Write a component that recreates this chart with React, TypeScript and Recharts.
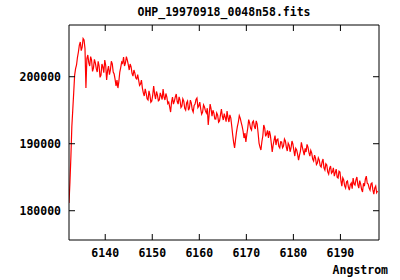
import { LineChart, Line, XAxis, YAxis } from "recharts"

// spectrum sampled on a linear wavelength grid (CRVAL1 / CDELT1 style)
const LAMBDA_START = 6132.3
const LAMBDA_STEP = 0.2

const flux = [
  181140, 184200, 188010, 192500, 195030, 197600, 200250, 201200, 201750, 202900,
  203690, 204700, 205180, 203900, 204430, 205700, 205480, 204200, 198310, 202700,
  203240, 202100, 201600, 203000, 202490, 200800, 201300, 202600, 202050, 201200,
  200700, 202300, 201600, 199900, 200250, 201900, 201450, 200600, 202490, 201700,
  199510, 200900, 201600, 200300, 201000, 202300, 201900, 200700, 200400, 199600,
  198610, 199500, 198310, 199300, 200700, 201400, 202190, 202000, 202940, 201600,
  202050, 203000, 202490, 201800, 201000, 201900, 201450, 200500, 200100, 201000,
  200550, 199800, 199660, 200300, 199510, 198700, 198910, 199500, 198310, 197600,
  197120, 198200, 197570, 196700, 196520, 197900, 197270, 196200, 196370, 197300,
  198610, 197400, 196670, 197800, 197270, 196400, 196520, 197600, 197120, 196600,
  198160, 197000, 196520, 197500, 196970, 196000, 196220, 195500, 194730, 196200,
  196970, 195900, 196370, 197000, 197420, 196300, 195920, 197000, 196520, 195400,
  195630, 196700, 196370, 195300, 195030, 196100, 196370, 195000, 195330, 196500,
  196070, 195100, 194730, 195700, 195920, 196600, 196820, 195400, 195630, 196200,
  195180, 194400, 194730, 195800, 195480, 194900, 194580, 195300, 192790, 194400,
  195920, 195200, 194130, 195000, 194580, 193700, 193680, 194600, 194280, 193200,
  193390, 194300, 195180, 194100, 193540, 194500, 193980, 193300, 194880, 193900,
  193240, 194300, 193830, 192600, 191300, 190200, 189360, 190600, 191740, 192600,
  193240, 194200, 193830, 193200, 192640, 191900, 190850, 191600, 190250, 191400,
  192340, 193600, 193090, 192300, 192040, 193200, 193390, 192600, 192190, 193400,
  192940, 191600, 190100, 189500, 189060, 190300, 191150, 192800, 192340, 191100,
  191450, 192000, 190850, 191900, 191300, 190100, 188760, 189800, 190550, 191200,
  189800, 190600, 190700, 189600, 189360, 190300, 190250, 189400, 189650, 190700,
  190400, 189500, 188910, 190100, 189800, 188800, 189360, 190400, 189950, 189000,
  188160, 189300, 189060, 188400, 187560, 188300, 188910, 190200, 189500, 188900,
  188310, 189300, 188760, 189900, 189500, 188700, 188160, 189000, 188610, 187700,
  187410, 188300, 187860, 186900, 187120, 187900, 187560, 186700, 186520, 187300,
  187710, 186400, 186070, 187000, 186820, 185800, 185470, 186300, 186670, 185600,
  185770, 186400, 185170, 185700, 186220, 185000, 184880, 185900, 185770, 184500,
  183680, 184900, 184580, 183700, 183380, 184300, 184430, 183500, 183080, 183900,
  184130, 183300, 184880, 184000, 183830, 184600, 185030, 183900, 183380, 184500,
  183980, 183200, 182790, 184100, 183680, 184700, 185170, 184100, 183980, 183400,
  183080, 184000, 184130, 183100, 182490, 183400, 183680, 182700, 182940,
]

const xTicks = [6140, 6150, 6160, 6170, 6180, 6190]
const yTicks = [180000, 190000, 200000]

const chartTitle = "OHP_19970918_0048n58.fits"
const xLabel = "Angstrom"

const data = flux.map((f, i) => ({
  w: +(LAMBDA_START + i * LAMBDA_STEP).toFixed(2),
  f,
}))

const FONT = "'DejaVu Sans Mono', monospace"
const X_DOMAIN = [6132.3, 6198.2]
const Y_DOMAIN = [175630, 207720]

function BottomTick(props: any) {
  const { x, y, payload } = props
  return (
    <g>
      <line x1={x} y1={y} x2={x} y2={y - 6} stroke="#000" />
      <text x={x} y={y + 17} textAnchor="middle" fontFamily={FONT} fontWeight="bold" fontSize={11.5} fill="#000">
        {payload.value}
      </text>
    </g>
  )
}

function TopTick(props: any) {
  const { x, y } = props
  return <line x1={x} y1={y} x2={x} y2={y + 6} stroke="#000" />
}

function LeftTick(props: any) {
  const { x, y, payload } = props
  return (
    <g>
      <line x1={x} y1={y} x2={x + 6} y2={y} stroke="#000" />
      <text x={x - 8} y={y + 4} textAnchor="end" fontFamily={FONT} fontWeight="bold" fontSize={11.5} fill="#000">
        {payload.value}
      </text>
    </g>
  )
}

function RightTick(props: any) {
  const { x, y } = props
  return <line x1={x} y1={y} x2={x - 6} y2={y} stroke="#000" />
}

export default function App() {
  return (
    <div style={{ position: "fixed", left: 0, top: 0, width: 400, height: 280, background: "#fff" }}>
      <div
        style={{
          position: "absolute",
          left: 69,
          width: 310,
          top: 5,
          textAlign: "center",
          fontFamily: FONT,
          fontWeight: "bold",
          fontSize: 11.5,
          color: "#000",
        }}
      >
        {chartTitle}
      </div>
      <div
        style={{
          position: "absolute",
          right: 12,
          top: 263,
          fontFamily: FONT,
          fontWeight: "bold",
          fontSize: 11.5,
          color: "#000",
        }}
      >
        {xLabel}
      </div>
      <LineChart
        width={400}
        height={280}
        data={data}
        margin={{ top: 24, right: 20, bottom: 0, left: 0 }}
        style={{ position: "absolute", left: 0, top: 0 }}
      >
        <XAxis
          dataKey="w"
          type="number"
          domain={X_DOMAIN}
          allowDataOverflow
          ticks={xTicks}
          height={40}
          tickSize={0}
          tickMargin={0}
          tickLine={false}
          axisLine={{ stroke: "#000" }}
          tick={<BottomTick />}
          interval={0}
        />
        <XAxis
          xAxisId="top"
          orientation="top"
          dataKey="w"
          type="number"
          domain={X_DOMAIN}
          allowDataOverflow
          ticks={xTicks}
          height={1}
          tickSize={0}
          tickMargin={0}
          tickLine={false}
          axisLine={{ stroke: "#000" }}
          tick={<TopTick />}
          interval={0}
        />
        <YAxis
          type="number"
          domain={Y_DOMAIN}
          allowDataOverflow
          ticks={yTicks}
          width={69}
          tickSize={0}
          tickMargin={0}
          tickLine={false}
          axisLine={{ stroke: "#000" }}
          tick={<LeftTick />}
          interval={0}
        />
        <YAxis
          yAxisId="right"
          orientation="right"
          type="number"
          domain={Y_DOMAIN}
          allowDataOverflow
          ticks={yTicks}
          width={1}
          tickSize={0}
          tickMargin={0}
          tickLine={false}
          axisLine={{ stroke: "#000" }}
          tick={<RightTick />}
          interval={0}
        />
        <Line
          type="linear"
          dataKey="f"
          stroke="#ff0000"
          strokeWidth={1.2}
          dot={false}
          isAnimationActive={false}
        />
      </LineChart>
    </div>
  )
}
